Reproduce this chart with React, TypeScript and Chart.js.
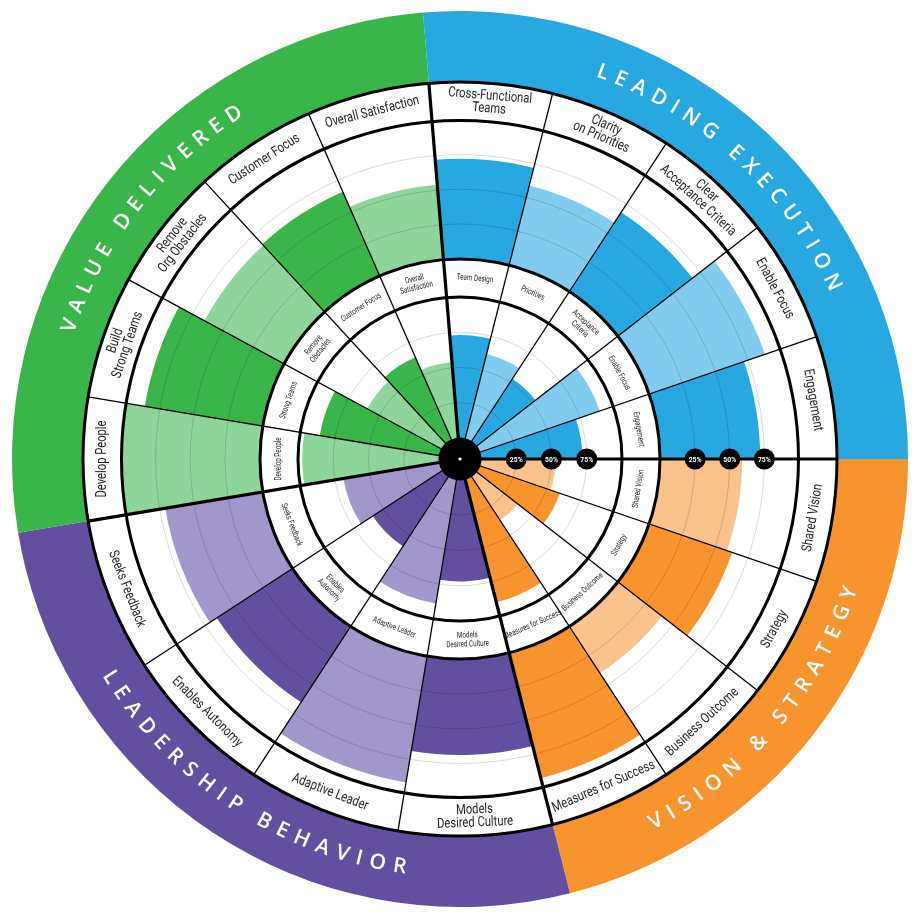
import React, { useEffect, useRef } from "react";
import { Chart, registerables } from "chart.js";

Chart.register(...registerables);

// ---------- data ----------
const outerLabels = [
  "Cross-Functional\nTeams", "Clarity\non Priorities", "Clear\nAcceptance Criteria", "Enable Focus", "Engagement",
  "Shared Vision", "Strategy", "Business Outcome", "Measures for Success",
  "Models\nDesired Culture", "Adaptive Leader", "Enables Autonomy", "Seeks Feedback",
  "Develop People", "Build\nStrong Teams", "Remove\nOrg Obstacles", "Customer Focus", "Overall Satisfaction",
];
const innerLabels = [
  "Team Design", "Priorities", "Acceptance\nCriteria", "Enable Focus", "Engagement",
  "Shared Vision", "Strategy", "Business Outcome", "Measures for Success",
  "Models\nDesired Culture", "Adaptive Leader", "Enables\nAutonomy", "Seeks Feedback",
  "Develop People", "Strong Teams", "Remove\nObstacles", "Customer Focus", "Overall\nSatisfaction",
];
const groups = [
  "exec", "exec", "exec", "exec", "exec",
  "vision", "vision", "vision", "vision",
  "leader", "leader", "leader", "leader",
  "value", "value", "value", "value", "value",
];
// width of each segment in "slots" (19 slots make the full circle)
const segmentSlots = [1, 1, 1, 1, 1, 1, 1, 1, 1, 1.25, 1.25, 1.25, 1.25, 1, 1, 1, 1, 1];
const innerValues = [73, 62, 53, 90, 72, 53, 60, 37, 90, 72, 89, 59, 69, 97, 86, 60, 64, 54];
const outerValues = [72, 59, 68, 88, 72, 59, 63, 40, 93, 69, 92, 65, 71, 99, 86, 65, 66, 54];
const tickValues = [25, 50, 75];
const tickLabels = ["25%", "50%", "75%"];
const groupTitles: Record<string, string> = {
  exec: "LEADING EXECUTION",
  vision: "VISION & STRATEGY",
  leader: "LEADERSHIP BEHAVIOR",
  value: "VALUE DELIVERED",
};
const groupTitleShift: Record<string, number> = { exec: 0, vision: 2.4, leader: 0, value: 0 };

// ---------- style ----------
const COLORS: Record<string, [string, string]> = {
  exec: ["#27A8E0", "#80CBEF"],
  vision: ["#F7942E", "#F9C38B"],
  leader: ["#634FA0", "#A297CA"],
  value: ["#3AB54A", "#8DD59A"],
};
const shade = ["d", "l", "d", "l", "d", "l", "d", "l", "d", "d", "l", "d", "l", "l", "d", "l", "d", "l"];
const segColors = groups.map((g, i) => (shade[i] === "d" ? COLORS[g][0] : COLORS[g][1]));

const W = 918;
const H = 919;
const D = Math.min(W, H) / 2;
const BAND_R = 448;
const OUT_RING_OUT = 377;
const OUT_RING_IN = 338.5;
const IN_RING_OUT = 200;
const IN_RING_IN = 162;
const HUB_R = 21.5;
const SLOT = 360 / 19;
const START = -SLOT / 4; // degrees clockwise from 12 o'clock

function range(r0: number, r100: number) {
  const k = (r100 - r0) / 100;
  const min = -r0 / k;
  return { min, max: min + D / k };
}
const innerRange = range(21, 162);
const outerRange = range(200.5, 339);

const LABEL_FONT = "Roboto, 'Liberation Sans', sans-serif";
const TEXT = "#231F20";

function drawRingLabel(ctx: CanvasRenderingContext2D, cx: number, cy: number, r: number, ang: number, text: string, lh: number, squeeze: number) {
  const TAU = Math.PI * 2;
  let a = ang % TAU;
  if (a < 0) a += TAU;
  const top = a >= Math.PI - 0.02 || a < 0.02;
  const lines = text.split("\n");
  ctx.save();
  ctx.translate(cx + r * Math.cos(a), cy + r * Math.sin(a));
  ctx.rotate(top ? a + Math.PI / 2 : a - Math.PI / 2);
  ctx.scale(squeeze, 1);
  ctx.textAlign = "center";
  ctx.textBaseline = "middle";
  lines.forEach((ln, i) => ctx.fillText(ln, 0, (i - (lines.length - 1) / 2) * lh));
  ctx.restore();
}

function drawArcText(ctx: CanvasRenderingContext2D, cx: number, cy: number, r: number, center: number, text: string, top: boolean, spacing: number) {
  const chars = [...text];
  const widths = chars.map((c) => ctx.measureText(c).width);
  const total = widths.reduce((s, w) => s + w, 0) + spacing * (chars.length - 1);
  let pos = -total / 2;
  chars.forEach((c, i) => {
    const mid = pos + widths[i] / 2;
    const a = top ? center + mid / r : center - mid / r;
    ctx.save();
    ctx.translate(cx + r * Math.cos(a), cy + r * Math.sin(a));
    ctx.rotate(top ? a + Math.PI / 2 : a - Math.PI / 2);
    ctx.textAlign = "center";
    ctx.textBaseline = "middle";
    ctx.fillText(c, 0, 0);
    ctx.restore();
    pos += widths[i] + spacing;
  });
}

const wheelPlugin = {
  id: "wheel",
  beforeDatasetsDraw(chart: any) {
    const ctx: CanvasRenderingContext2D = chart.ctx;
    const s = chart.scales.rIn;
    const cx = s.xCenter, cy = s.yCenter;
    const arcs = chart.getDatasetMeta(0).data;
    const seen: Record<string, [number, number]> = {};
    groups.forEach((g, i) => {
      const a: any = arcs[i];
      if (!seen[g]) seen[g] = [a.startAngle, a.endAngle];
      else seen[g][1] = a.endAngle;
    });
    Object.keys(seen).forEach((g) => {
      ctx.beginPath();
      ctx.moveTo(cx, cy);
      ctx.arc(cx, cy, BAND_R, seen[g][0], seen[g][1]);
      ctx.closePath();
      ctx.fillStyle = COLORS[g][0];
      ctx.fill();
    });
    ctx.beginPath();
    ctx.arc(cx, cy, OUT_RING_OUT, 0, Math.PI * 2);
    ctx.fillStyle = "#fff";
    ctx.fill();
    ctx.fillStyle = "#fff";
    ctx.font = "600 21px 'Open Sans', sans-serif";
    Object.keys(seen).forEach((g) => {
      const mid = (seen[g][0] + seen[g][1]) / 2 + (groupTitleShift[g] * Math.PI) / 180;
      let m = mid % (Math.PI * 2);
      if (m < 0) m += Math.PI * 2;
      const top = m > Math.PI;
      drawArcText(ctx, cx, cy, 412, mid, groupTitles[g], top, 7.5);
    });
  },
  beforeDatasetDraw(chart: any, args: any) {
    if (args.index !== 0) return;
    const ctx: CanvasRenderingContext2D = chart.ctx;
    const s = chart.scales.rIn;
    ctx.beginPath();
    ctx.arc(s.xCenter, s.yCenter, IN_RING_OUT, 0, Math.PI * 2);
    ctx.fillStyle = "#fff";
    ctx.fill();
  },
  afterDatasetsDraw(chart: any) {
    const ctx: CanvasRenderingContext2D = chart.ctx;
    const sIn = chart.scales.rIn;
    const sOut = chart.scales.rOut;
    const cx = sIn.xCenter, cy = sIn.yCenter;
    const arcs = chart.getDatasetMeta(0).data;
    ctx.strokeStyle = "rgba(0,0,0,0.15)";
    ctx.lineWidth = 1;
    [sIn, sOut].forEach((sc) => {
      tickValues.forEach((v) => {
        ctx.beginPath();
        ctx.arc(cx, cy, sc.getDistanceFromCenterForValue(v), 0, Math.PI * 2);
        ctx.stroke();
      });
    });
    const ring = (r1: number, r2: number) => {
      ctx.beginPath();
      ctx.arc(cx, cy, r2, 0, Math.PI * 2);
      ctx.arc(cx, cy, r1, 0, Math.PI * 2, true);
      ctx.fillStyle = "#fff";
      ctx.fill();
    };
    ring(IN_RING_IN, IN_RING_OUT);
    ring(OUT_RING_IN, OUT_RING_OUT);
    ctx.strokeStyle = "#000";
    groups.forEach((g, i) => {
      const a: any = arcs[i];
      const thick = g !== groups[(i + groups.length - 1) % groups.length];
      ctx.lineWidth = thick ? 3.2 : 1.3;
      ctx.beginPath();
      ctx.moveTo(cx, cy);
      ctx.lineTo(cx + OUT_RING_OUT * Math.cos(a.startAngle), cy + OUT_RING_OUT * Math.sin(a.startAngle));
      ctx.stroke();
    });
    ctx.lineWidth = 3;
    [IN_RING_IN, IN_RING_OUT, OUT_RING_IN, OUT_RING_OUT].forEach((r) => {
      ctx.beginPath();
      ctx.arc(cx, cy, r, 0, Math.PI * 2);
      ctx.stroke();
    });
    ctx.fillStyle = TEXT;
    ctx.font = `14px ${LABEL_FONT}`;
    outerLabels.forEach((t, i) => {
      const a: any = arcs[i];
      drawRingLabel(ctx, cx, cy, (OUT_RING_IN + OUT_RING_OUT) / 2, (a.startAngle + a.endAngle) / 2, t, 13, 0.8);
    });
    ctx.font = `8.5px ${LABEL_FONT}`;
    innerLabels.forEach((t, i) => {
      const a: any = arcs[i];
      drawRingLabel(ctx, cx, cy, (IN_RING_IN + IN_RING_OUT) / 2, (a.startAngle + a.endAngle) / 2, t, 9, 0.74);
    });
    ctx.beginPath();
    ctx.arc(cx, cy, HUB_R, 0, Math.PI * 2);
    ctx.fillStyle = "#000";
    ctx.fill();
    ctx.beginPath();
    ctx.arc(cx, cy, 1.6, 0, Math.PI * 2);
    ctx.fillStyle = "#fff";
    ctx.fill();
    [sIn, sOut].forEach((sc) => {
      tickValues.forEach((v, k) => {
        const x = cx + sc.getDistanceFromCenterForValue(v);
        ctx.beginPath();
        ctx.arc(x, cy, 10.5, 0, Math.PI * 2);
        ctx.fillStyle = "#000";
        ctx.fill();
        ctx.save();
        ctx.translate(x, cy + 0.5);
        ctx.scale(0.85, 1);
        ctx.fillStyle = "#fff";
        ctx.font = `bold 8px ${LABEL_FONT}`;
        ctx.textAlign = "center";
        ctx.textBaseline = "middle";
        ctx.fillText(tickLabels[k], 0, 0);
        ctx.restore();
      });
    });
  },
};

const radial = (rng: { min: number; max: number }) => ({
  type: "radialLinear" as const,
  axis: "r" as const,
  display: false,
  min: rng.min,
  max: rng.max,
  startAngle: START,
  ticks: { display: false },
  grid: { display: false },
  angleLines: { display: false },
  pointLabels: { display: false },
});

export default function App() {
  const ref = useRef<HTMLCanvasElement>(null);
  useEffect(() => {
    const chart = new Chart(ref.current!, {
      type: "polarArea",
      data: {
        labels: outerLabels.map((l) => l.replace("\n", " ")),
        datasets: [
          {
            label: "inner",
            data: innerValues,
            rAxisID: "rIn",
            backgroundColor: segColors,
            borderWidth: 0,
            angle: (c: any) => segmentSlots[c.dataIndex] * SLOT,
          } as any,
          {
            label: "outer",
            data: outerValues,
            rAxisID: "rOut",
            backgroundColor: segColors,
            borderWidth: 0,
            angle: (c: any) => segmentSlots[c.dataIndex] * SLOT,
          } as any,
        ],
      },
      options: {
        responsive: false,
        animation: false,
        events: [],
        layout: { padding: 0 },
        plugins: { legend: { display: false }, tooltip: { enabled: false } },
        scales: {
          rIn: radial(innerRange),
          rOut: radial(outerRange),
        } as any,
      },
      plugins: [wheelPlugin],
    });
    return () => chart.destroy();
  }, []);
  return (
    <div style={{ position: "fixed", left: 1, top: 0, width: W, height: H, background: "#fff" }}>
      <canvas ref={ref} width={W} height={H} style={{ width: W, height: H, display: "block" }} />
    </div>
  );
}
